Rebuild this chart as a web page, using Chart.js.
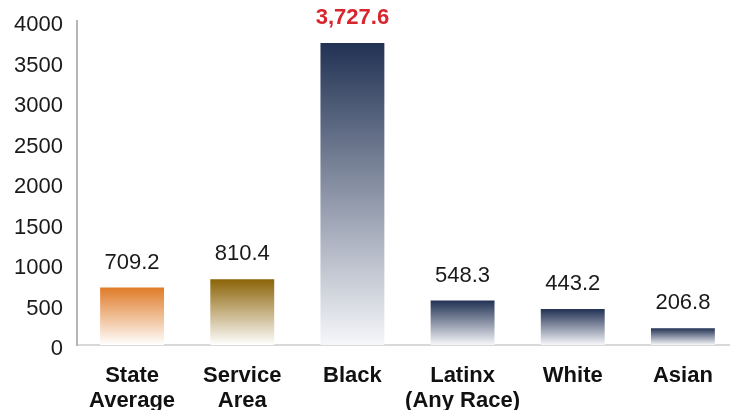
<!DOCTYPE html>
<html>
<head>
<meta charset="utf-8">
<script src="https://cdn.jsdelivr.net/npm/chart.js@4"></script>
<style>
html,body{margin:0;padding:0;overflow:hidden;background:#fff;}
#wrap{width:741px;height:410px;position:relative;}
</style>
</head>
<body>
<div id="wrap"><canvas id="c"></canvas></div>
<script>
const categories = [["State","Average"],["Service","Area"],["Black"],["Latinx","(Any Race)"],["White"],["Asian"]];
const values = [709.2, 810.4, 3727.6, 548.3, 443.2, 206.8];
const valueLabels = ["709.2","810.4","3,727.6","548.3","443.2","206.8"];
const topColors = ["#e07b28","#8c6408","#223254","#223254","#223254","#223254"];
const bottomColors = ["#ffffff","#ffffff","#f6f7fa","#f6f7fa","#f6f7fa","#f6f7fa"];
const highlightIndex = 2;
const yTicks = [0,500,1000,1500,2000,2500,3000,3500,4000];

const FONT = "'Liberation Sans', Arial, sans-serif";

function gradientFor(ctx){
  const chart = ctx.chart;
  const i = ctx.dataIndex;
  const ys = chart.scales.y;
  if (!chart.chartArea || !ys) return topColors[i];
  const top = ys.getPixelForValue(values[i]);
  const bot = ys.getPixelForValue(0);
  if (!isFinite(top) || !isFinite(bot) || top === bot) return topColors[i];
  const g = chart.ctx.createLinearGradient(0, top, 0, bot);
  g.addColorStop(0, topColors[i]);
  g.addColorStop(1, bottomColors[i]);
  return g;
}

const labelPlugin = {
  id: 'valueLabels',
  afterDatasetsDraw(chart){
    const c = chart.ctx;
    const meta = chart.getDatasetMeta(0);
    c.save();
    c.textAlign = 'center';
    c.textBaseline = 'middle';
    meta.data.forEach((bar, i) => {
      if (i === highlightIndex){
        c.font = "bold 22px " + FONT;
        c.fillStyle = "#d9252e";
      } else {
        c.font = "22px " + FONT;
        c.fillStyle = "#1a1a1a";
      }
      c.fillText(valueLabels[i], bar.x, bar.y - 25);
    });
    c.restore();
  }
};

new Chart(document.getElementById('c'), {
  type: 'bar',
  data: {
    labels: categories,
    datasets: [{
      data: values,
      backgroundColor: gradientFor,
      borderWidth: 0,
      barPercentage: 0.58,
      categoryPercentage: 1.0
    }]
  },
  options: {
    responsive: true,
    maintainAspectRatio: false,
    animation: false,
    layout: { padding: { top: 21, right: 3, left: 0, bottom: 0 } },
    plugins: { legend: { display: false }, tooltip: { enabled: false } },
    scales: {
      x: {
        grid: { display: false, drawTicks: false },
        border: { display: true, color: '#d9d9d9', width: 2 },
        ticks: {
          color: '#111',
          font: { family: FONT, size: 22, weight: 'bold', lineHeight: 1.12 },
          padding: 19,
          maxRotation: 0,
          autoSkip: false
        },
        afterFit(s){ s.height = 65; }
      },
      y: {
        min: 0, max: 4000,
        afterBuildTicks(s){ s.ticks = yTicks.map(v => ({value: v})); },
        grid: { display: false, drawTicks: false },
        border: { display: true, color: '#b5b5b5', width: 2 },
        ticks: {
          color: '#1a1a1a',
          font: { family: FONT, size: 22, lineHeight: 0.5 },
          padding: 14,
          labelOffset: 4,
          callback: v => String(v)
        },
        afterFit(s){ s.width = 77; }
      }
    }
  },
  plugins: [labelPlugin]
});
</script>
</body>
</html>
